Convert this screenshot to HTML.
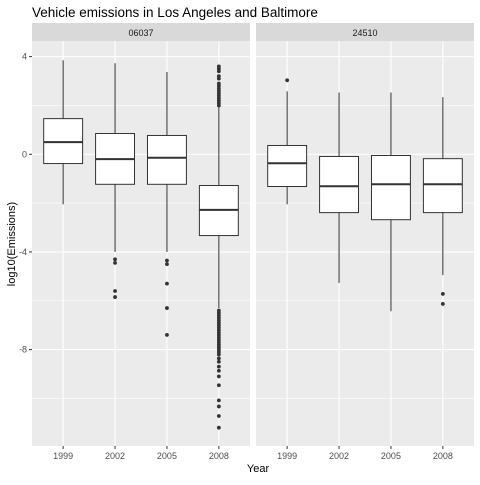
<!DOCTYPE html>
<html><head><meta charset="utf-8"><style>
body{margin:0;background:#fff;font-family:"Liberation Sans",Arial,sans-serif}
svg text{font-family:"Liberation Sans",Arial,sans-serif}
</style></head><body>
<svg id="c" width="480" height="480" xmlns="http://www.w3.org/2000/svg">
<rect width="480" height="480" fill="#fff"/>
<text x="32" y="17" font-size="13.5" fill="#000">Vehicle emissions in Los Angeles and Baltimore</text>
<text transform="translate(15,244) rotate(-90)" font-size="11" text-anchor="middle">log10(Emissions)</text>
<text x="258" y="472" font-size="11" text-anchor="middle">Year</text>
</svg>
<script>
const facets=["06037","24510"];
const years=["1999","2002","2005","2008"];
const yTicks=[4,0,-4,-8];
const yMinor=[2,-2,-6,-10];
// per facet, per year: [lowerWhisker,q1,median,q3,upperWhisker]
const la=[[-2.05,-0.38,0.5,1.46,3.85],[-4.0,-1.23,-0.2,0.85,3.73],[-4.0,-1.23,-0.14,0.77,3.37],[-6.3,-3.33,-2.28,-1.28,1.94]];
const balt=[[-2.05,-1.32,-0.37,0.36,2.58],[-5.27,-2.39,-1.31,-0.09,2.53],[-6.43,-2.68,-1.23,-0.05,2.53],[-4.95,-2.39,-1.23,-0.18,2.34]];
const laOut=[[],[-4.3,-4.45,-5.6,-5.85],[-4.35,-4.5,-5.3,-6.3,-7.4],
 [2.0,2.1,2.2,2.3,2.4,2.5,2.6,2.7,2.8,2.9,3.1,3.2,3.4,3.5,3.6,
  -6.4,-6.5,-6.6,-6.7,-6.8,-6.9,-7.0,-7.1,-7.2,-7.3,-7.4,-7.5,-7.6,-7.7,-7.8,-7.9,-8.0,-8.1,-8.2,-8.36,-8.5,-8.7,-8.87,-9.1,-9.46,-10.08,-10.33,-10.72,-11.2]];
const baltOut=[[3.03],[],[],[-5.72,-6.13]];
const stats=[la,balt], outs=[laOut,baltOut];
const panelX=[32,256], panelW=218, pTop=41, pBot=446;
const yMax=4.64, yMin=-11.95;
const ys=v=>pTop+(yMax-v)/(yMax-yMin)*(pBot-pTop);
const xs=(p,i)=>panelX[p]+(i+1-0.4)/4.2*panelW;
const svg=document.getElementById('c'), NS="http://www.w3.org/2000/svg";
function mk(t,a,parent){const e=document.createElementNS(NS,t);for(const k in a)e.setAttribute(k,a[k]);(parent||svg).appendChild(e);return e;}
facets.forEach((f,p)=>{
  const g=mk('g',{});
  
  
  mk('rect',{x:panelX[p],y:pTop,width:panelW,height:pBot-pTop,fill:'#ebebeb'},g);
  mk('rect',{x:panelX[p],y:23,width:panelW,height:18,fill:'#d9d9d9'},g);
  const st=mk('text',{x:panelX[p]+panelW/2,y:36,'font-size':'9','text-anchor':'middle',fill:'#1a1a1a'},g);
  st.textContent=f;
  
  
  yMinor.forEach(v=>mk('line',{x1:panelX[p],x2:panelX[p]+panelW,y1:ys(v),y2:ys(v),stroke:'#fff','stroke-width':0.6},g));
  yTicks.forEach(v=>mk('line',{x1:panelX[p],x2:panelX[p]+panelW,y1:ys(v),y2:ys(v),stroke:'#fff','stroke-width':1.1},g));
  years.forEach((y,i)=>{
    const x=xs(p,i);
    mk('line',{x1:x,x2:x,y1:pTop,y2:pBot,stroke:'#fff','stroke-width':1.1},g);
    mk('line',{x1:x,x2:x,y1:pBot,y2:pBot+3,stroke:'#333','stroke-width':1},g);
    const t=mk('text',{x:x,y:pBot+13,'font-size':'9','text-anchor':'middle',fill:'#4d4d4d'},g);
    t.textContent=y;
    
    
  });
  years.forEach((y,i)=>{
    const s=stats[p][i], x=xs(p,i), hw=0.375/4.2*panelW;
    const bg=mk('g',{},g);
    
    
    mk('line',{x1:x,x2:x,y1:ys(s[4]),y2:ys(s[3]),stroke:'#333','stroke-width':1},bg);
    mk('line',{x1:x,x2:x,y1:ys(s[1]),y2:ys(s[0]),stroke:'#333','stroke-width':1},bg);
    mk('rect',{x:x-hw,y:ys(s[3]),width:2*hw,height:ys(s[1])-ys(s[3]),fill:'#fff',stroke:'#333','stroke-width':1},bg);
    mk('line',{x1:x-hw,x2:x+hw,y1:ys(s[2]),y2:ys(s[2]),stroke:'#333','stroke-width':2},bg);
    outs[p][i].forEach(v=>{
      const c=mk('circle',{cx:x,cy:ys(v),r:1.9,fill:'#333'},bg);
      
      
    });
  });
});
yTicks.forEach(v=>{
  const t=mk('text',{x:27,y:ys(v)+3,'font-size':'9','text-anchor':'end',fill:'#4d4d4d'});
  t.textContent=v;
  
  
  mk('line',{x1:29,x2:32,y1:ys(v),y2:ys(v),stroke:'#333','stroke-width':1});
});
</script>
</body></html>
